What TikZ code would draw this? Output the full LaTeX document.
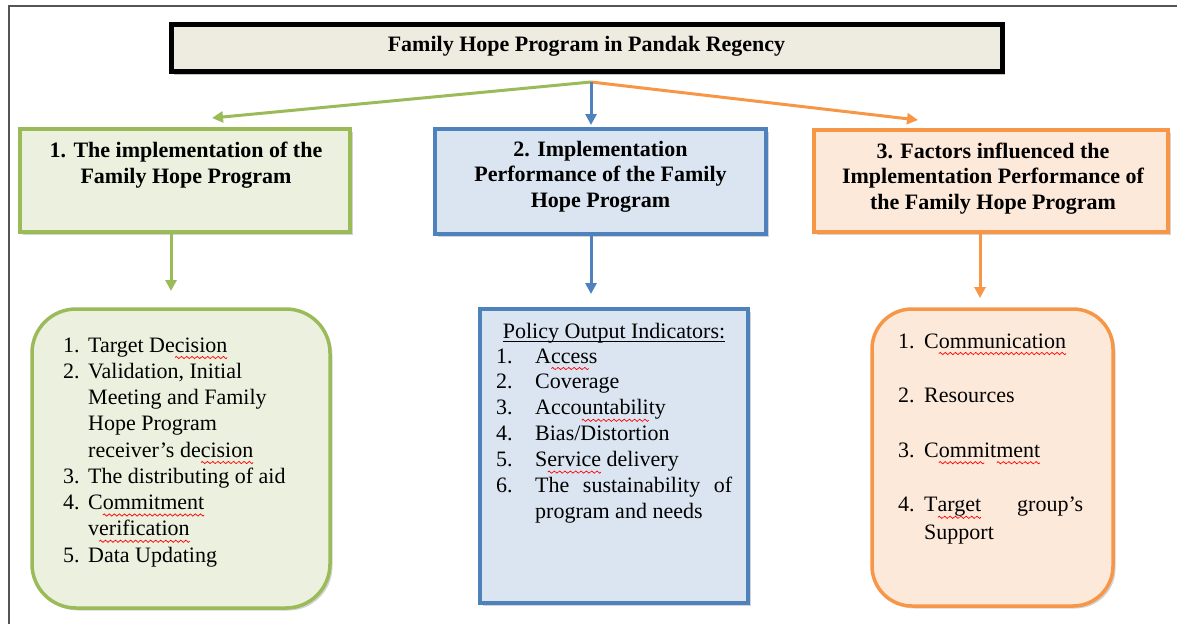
\documentclass[tikz,border=0pt]{standalone}
\usepackage{fontspec}
\setmainfont{Liberation Serif}
\usetikzlibrary{arrows.meta,shadows}

\definecolor{titlefill}{HTML}{EEECE1}
\definecolor{grnline}{HTML}{9BBB59}
\definecolor{grnfill}{HTML}{EBF1DE}
\definecolor{bluline}{HTML}{4F81BD}
\definecolor{blufill}{HTML}{DBE5F1}
\definecolor{orgline}{HTML}{F79646}
\definecolor{orgfill}{HTML}{FDE9D9}
\definecolor{framegray}{HTML}{555555}

% one period of a red wavy underline, repeated with leaders
\newsavebox\wavebox
\newsavebox\wordbox
\newcommand\rw[1]{\sbox\wordbox{#1}%
  \rlap{\raisebox{-5.5pt}{\hbox to \wd\wordbox{\xleaders\copy\wavebox\hfil}}}\usebox\wordbox}
% straight underline
\newcommand\ulinetext[1]{\sbox\wordbox{#1}%
  \rlap{\rule[-3.5pt]{\wd\wordbox}{1pt}}\usebox\wordbox}

% centred bold heading lines, baseline on the first line
\newcommand\hlines[1]{\begin{tabular}[t]{@{}c@{}}#1\end{tabular}}
% numbered list: number column of given width
\newcommand\numlist[2]{\begin{tabular}[t]{@{}p{#1}@{}l@{}}#2\end{tabular}}

\begin{document}
\sbox\wavebox{\pgfpicture
  \pgfsetcolor{red}\pgfsetlinewidth{0.7pt}
  \pgfpathmoveto{\pgfpoint{0pt}{0pt}}
  \pgfpathcurveto{\pgfpoint{0.9pt}{1.5pt}}{\pgfpoint{1.6pt}{1.5pt}}{\pgfpoint{2.5pt}{0pt}}
  \pgfpathcurveto{\pgfpoint{3.4pt}{-1.5pt}}{\pgfpoint{4.1pt}{-1.5pt}}{\pgfpoint{5pt}{0pt}}
  \pgfusepath{stroke}
  \pgfresetboundingbox
  \pgfpathrectangle{\pgfpointorigin}{\pgfpoint{5pt}{0pt}}\pgfusepath{use as bounding box}
\endpgfpicture}%
\begin{tikzpicture}[x=1pt,y=-1pt,
  panel/.style={draw, line width=3.5pt, inner sep=0pt, outer sep=0pt,
    drop shadow={shadow xshift=2.5pt, shadow yshift=-2.5pt, opacity=.35, fill=gray}},
  headtext/.style={inner sep=0pt, anchor=base, font=\fontsize{22}{25.5}\selectfont\bfseries},
  listtext/.style={inner sep=0pt, anchor=base west},
  link/.style={line width=3pt, -{Triangle[length=11pt,width=11pt]}},
]
\useasboundingbox (0,0) rectangle (1177,624);

% page frame (left and top edges)
\draw[framegray, line width=2pt] (8.5,624) -- (8.5,6) -- (1177,6);

% title
\node[panel, fill=titlefill, draw=black, line width=5pt,
      drop shadow={shadow xshift=3pt, shadow yshift=-3.5pt, opacity=.45, fill=gray!80!brown},
      minimum width=831pt, minimum height=47pt] (title) at (586.5,47.5) {};
\node[headtext] (titletext) at (586.5,51) {Family Hope Program in Pandak Regency};

% upper panels
\node[panel, fill=grnfill, draw=grnline, minimum width=330pt, minimum height=103pt] (b1) at (185,180.5) {};
\node[panel, fill=blufill, draw=bluline, minimum width=331pt, minimum height=105pt] (b2) at (600.5,181.5) {};
\node[panel, fill=orgfill, draw=orgline, minimum width=354pt, minimum height=102pt] (b3) at (991,181) {};

\node[headtext, font=\fontsize{22}{26}\selectfont\bfseries] (h1) at (186,157)
  {\hlines{1. The implementation of the\\ Family Hope Program}};
\node[headtext] (h2) at (600.5,156)
  {\hlines{2. Implementation\\ Performance of the Family\\ Hope Program}};
\node[headtext] (h3) at (993,158)
  {\hlines{3. Factors influenced the\\ Implementation Performance of\\ the Family Hope Program}};

% lower panels
\node[panel, fill=grnfill, draw=grnline, rounded corners=44pt,
      minimum width=298pt, minimum height=299pt] (l1) at (181,458.5) {};
\node[panel, fill=blufill, draw=bluline,
      minimum width=268pt, minimum height=294pt] (l2) at (614,456) {};
\node[panel, fill=orgfill, draw=orgline, rounded corners=40pt,
      minimum width=241pt, minimum height=297pt] (l3) at (992.5,457.5) {};

\node[listtext, font=\fontsize{22}{26.25}\selectfont] (list1) at (63,352)
  {\numlist{25pt}{
   1. & Target De\rw{cision}\\
   2. & Validation, Initial\\
      & Meeting and Family\\
      & Hope Program\\
      & receiver’s de\rw{cision}\\
   3. & The distributing of aid\\
   4. & C\rw{ommitment}\\
      & v\rw{erification}\\
   5. & Data Updating}};

\node[inner sep=0pt, anchor=base, font=\fontsize{22}{26}\selectfont] (policy) at (614,338)
  {\ulinetext{Policy Output Indicators:}};
\node[listtext, font=\fontsize{22}{25.9}\selectfont] (list2) at (496,363)
  {\numlist{39pt}{
   1. & A\rw{cces}s\\
   2. & Coverage\\
   3. & Acco\rw{untabili}ty\\
   4. & Bias/Distortion\\
   5. & S\rw{ervice} delivery\\
   6. & \makebox[197pt][s]{The sustainability of}\\
      & program and needs}};

\node[listtext, font=\fontsize{22}{27.3}\selectfont] (list3) at (898,348)
  {\numlist{26pt}{
   1. & C\rw{ommunication}\\
      & \\
   2. & Resources\\
      & \\
   3. & C\rw{omm}it\rw{ment}\\
      & \\
   4. & \makebox[159pt][s]{T\rw{arget} group’s}\\
      & Support}};

% connectors from the title
\coordinate (hub) at (591,82);
\coordinate (tip1) at (212,118);
\coordinate (tip2) at (591,125);
\coordinate (tip3) at (918,120);
\draw[link, grnline] (hub) -- (tip1);
\draw[link, orgline] (hub) -- (tip3);
\draw[link, bluline] (hub) -- (tip2);

% connectors from the upper to the lower panels
\coordinate (d1) at (171,291);
\coordinate (d2) at (591,294);
\coordinate (d3) at (980,298);
\draw[link, grnline] (b1.south -| d1) -- (d1);
\draw[link, bluline] (b2.south -| d2) -- (d2);
\draw[link, orgline] (b3.south -| d3) -- (d3);
\end{tikzpicture}
\end{document}
